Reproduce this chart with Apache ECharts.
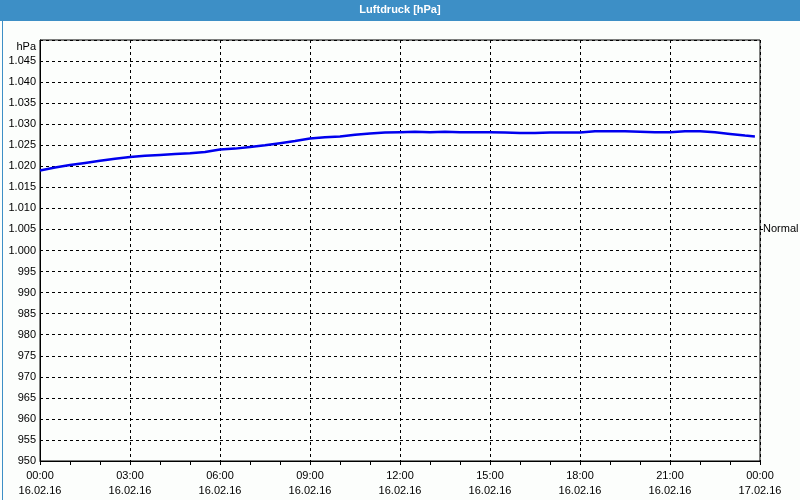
<!DOCTYPE html>
<html>
<head>
<meta charset="utf-8">
<script src="https://cdn.jsdelivr.net/npm/echarts@6/dist/echarts.min.js"></script>
<style>
html,body{margin:0;padding:0;background:#fcfefc;}
#chart{width:800px;height:500px;}
</style>
</head>
<body>
<div id="chart"></div>
<script>
// Hours since 00:00 16.02.16
var hours = [0,0.5,1,1.5,2,2.5,3,3.5,4,4.5,5,5.5,6,6.5,7,7.5,8,8.5,9,9.5,10,10.5,11,11.5,
             12,12.5,13,13.5,14,14.5,15,15.5,16,16.5,17,17.5,18,18.5,19,19.5,20,20.5,21,21.5,22,22.5,23,23.5,23.83];
var pressure = [1019.0,1019.7,1020.3,1020.8,1021.3,1021.8,1022.2,1022.5,1022.7,1022.9,1023.1,1023.4,
                1024.0,1024.2,1024.6,1025.0,1025.5,1026.0,1026.6,1026.9,1027.1,1027.5,1027.8,1028.0,
                1028.1,1028.2,1028.1,1028.2,1028.1,1028.1,1028.1,1028.0,1027.9,1027.9,1028.0,1028.0,
                1028.0,1028.3,1028.3,1028.3,1028.2,1028.1,1028.1,1028.3,1028.3,1028.1,1027.7,1027.3,1027.1];
var tickHours = [0,3,6,9,12,15,18,21,24];
var tickTimes = ['00:00','03:00','06:00','09:00','12:00','15:00','18:00','21:00','00:00'];
var tickDates = ['16.02.16','16.02.16','16.02.16','16.02.16','16.02.16','16.02.16','16.02.16','16.02.16','17.02.16'];
var normalValue = 1005;
var titleText = 'Luftdruck [hPa]';
var unitText = 'hPa';

var seriesData = hours.map(function(h, i){ return [h, pressure[i]]; });
var font = '"Liberation Sans", Arial, sans-serif';

var chart = echarts.init(document.getElementById('chart'), null, {renderer:'canvas'});
chart.setOption({
  backgroundColor: '#fcfefc',
  animation: false,
  title: {
    text: titleText, left: 'center', top: 0, padding:[4,5,5,5],
    textStyle: {color:'#ffffff', fontSize: 11, fontWeight: 'bold', fontFamily: font}
  },
  graphic: [
    {type:'rect', left:0, top:0, z:-10, shape:{width:800, height:21}, style:{fill:'#3d8fc6'}},
    {type:'rect', left:0, top:0, z:100, silent:true, shape:{x:0.5,y:0.5,width:799,height:499}, style:{fill:'none', stroke:'#3d8fc6', lineWidth:1}},
    {type:'text', right: 764, top: 41, style:{text: unitText, fill:'#000', font:'11px ' + font, textAlign:'right'}}
  ],
  grid: {left:40, right:40, top:40, bottom:39, show:true, borderColor:'#000', borderWidth:1,
         backgroundColor:'transparent', containLabel:false, outerBoundsMode:'none'},
  xAxis: {
    type:'value', min:0, max:24, interval:3,
    axisLine:{show:true, lineStyle:{color:'#000', width:1}},
    axisTick:{show:true, length:4, inside:false, lineStyle:{color:'#000'}},
    minorTick:{show:true, splitNumber:3, length:4, lineStyle:{color:'#000'}},
    splitLine:{show:true, lineStyle:{color:'#000', type:[3,3], width:1}},
    axisLabel:{
      margin: 7, color:'#000', fontSize:11, fontFamily:font, lineHeight:15,
      formatter:function(v){ var i = tickHours.indexOf(v); return i<0 ? '' : tickTimes[i] + '\n' + tickDates[i]; }
    }
  },
  yAxis: [{
    type:'value', min:950, max:1050, interval:5,
    axisLine:{show:true, lineStyle:{color:'#000', width:1}},
    axisTick:{show:false},
    splitLine:{show:true, lineStyle:{color:'#000', type:[3,3], width:1}},
    axisLabel:{
      margin: 4, color:'#000', fontSize:11, fontFamily:font,
      formatter:function(v){
        if (v >= 1050) return '';
        if (v >= 1000) { var s = String(v); return s.charAt(0) + '.' + s.slice(1); }
        return String(v);
      }
    }
  },{
    type:'value', min:950, max:1050, interval:5, position:'right',
    axisLine:{show:false},
    splitLine:{show:false},
    axisTick:{show:true, length:3, customValues:[normalValue], lineStyle:{color:'#000'}},
    axisLabel:{show:true, margin:3, color:'#000', fontSize:11, fontFamily:font, customValues:[normalValue],
      formatter:function(v){ return v === normalValue ? 'Normal' : ''; }}
  }],
  series: [{
    type:'line', data: seriesData, showSymbol:false, symbol:'none',
    lineStyle:{color:'#0000ee', width:2.5}, z:5
  }]
});
</script>
</body>
</html>
